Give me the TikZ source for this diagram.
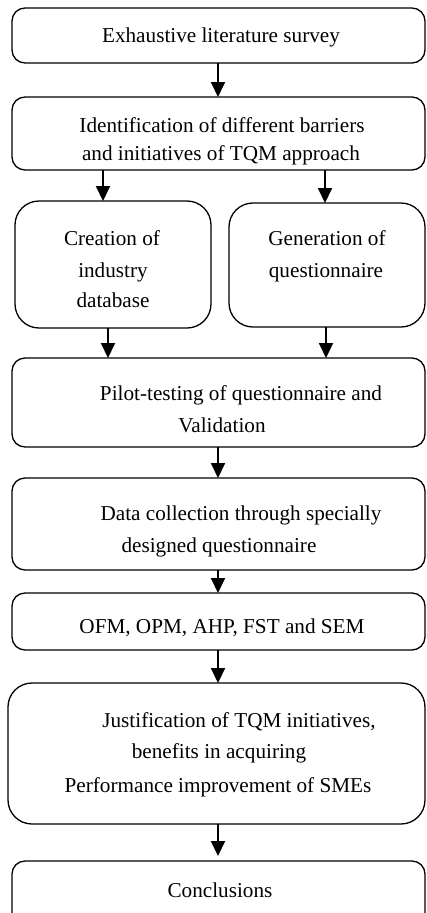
\documentclass[tikz,border=0pt]{standalone}
\usepackage{fontspec}
\setmainfont{Liberation Serif}
\usetikzlibrary{arrows.meta}
\begin{document}
\begin{tikzpicture}[x=1pt,y=-1pt,
  box/.style={draw=black,line width=1.3pt,rounded corners=13pt,outer sep=0pt,inner sep=0pt},
  bigbox/.style={box,rounded corners=24pt},
  txt/.style={anchor=base,inner sep=0pt,font=\fontsize{21.2}{25}\selectfont},
  arr/.style={line width=2pt,-{Triangle[length=15pt,width=14pt]}}]
\useasboundingbox (0,0) rectangle (427,913);
\clip (0,0) rectangle (427,913);
% boxes
\node[box,minimum width=413pt,minimum height=55pt] (b1) at (218.5,35.5) {};
\node[box,minimum width=413pt,minimum height=73pt] (b2) at (218.5,133.5) {};
\node[bigbox,minimum width=196pt,minimum height=127pt] (b3) at (113,264.5) {};
\node[bigbox,minimum width=196pt,minimum height=124pt] (b4) at (327,265) {};
\node[box,minimum width=413pt,minimum height=89pt] (b5) at (218.5,402.5) {};
\node[box,minimum width=413pt,minimum height=92pt] (b6) at (218.5,524) {};
\node[box,minimum width=413pt,minimum height=57pt] (b7) at (218.5,621.5) {};
\node[bigbox,minimum width=417pt,minimum height=141pt] (b8) at (216.5,753.5) {};
\node[box,minimum width=413pt,minimum height=69pt] (b9) at (218.5,895.5) {};
% texts
\node[txt] (t1) at (221,42) {Exhaustive literature survey};
\node[txt] (t2a) at (222,132) {Identification of different barriers};
\node[txt] (t2b) at (221,160) {and initiatives of TQM approach};
\node[txt] (t3a) at (112,245) {Creation of};
\node[txt] (t3b) at (113,277) {industry};
\node[txt] (t3c) at (113,307) {database};
\node[txt] (t4a) at (327,245) {Generation of};
\node[txt] (t4b) at (326,277) {questionnaire};
\node[txt] (t5a) at (241,400) {Pilot-testing of questionnaire and};
\node[txt] (t5b) at (222,432) {Validation};
\node[txt] (t6a) at (241,520) {Data collection through specially};
\node[txt] (t6b) at (219,552) {designed questionnaire};
\node[txt] (t7) at (222,633) {OFM, OPM, AHP, FST and SEM};
\node[txt] (t8a) at (239,727) {Justification of TQM initiatives,};
\node[txt] (t8b) at (219,758) {benefits in acquiring};
\node[txt] (t8c) at (218,792) {Performance improvement of SMEs};
\node[txt] (t9) at (220,897) {Conclusions};
% arrow x positions
\coordinate (xm) at (218,0);
\coordinate (xl1) at (103,0);
\coordinate (xr1) at (325,0);
\coordinate (xl2) at (108,0);
\coordinate (xr2) at (326,0);
\draw[arr] (b1.south -| xm) -- (b2.north -| xm);
\draw[arr] (b2.south -| xl1) -- (b3.north -| xl1);
\draw[arr] (b2.south -| xr1) -- (b4.north -| xr1);
\draw[arr] (b3.south -| xl2) -- (b5.north -| xl2);
\draw[arr] (b4.south -| xr2) -- (b5.north -| xr2);
\draw[arr] (b5.south -| xm) -- (b6.north -| xm);
\draw[arr] (b6.south -| xm) -- (b7.north -| xm);
\draw[arr] (b7.south -| xm) -- (b8.north -| xm);
\draw[arr,shorten >=5pt] (b8.south -| xm) -- (b9.north -| xm);
\end{tikzpicture}
\end{document}
